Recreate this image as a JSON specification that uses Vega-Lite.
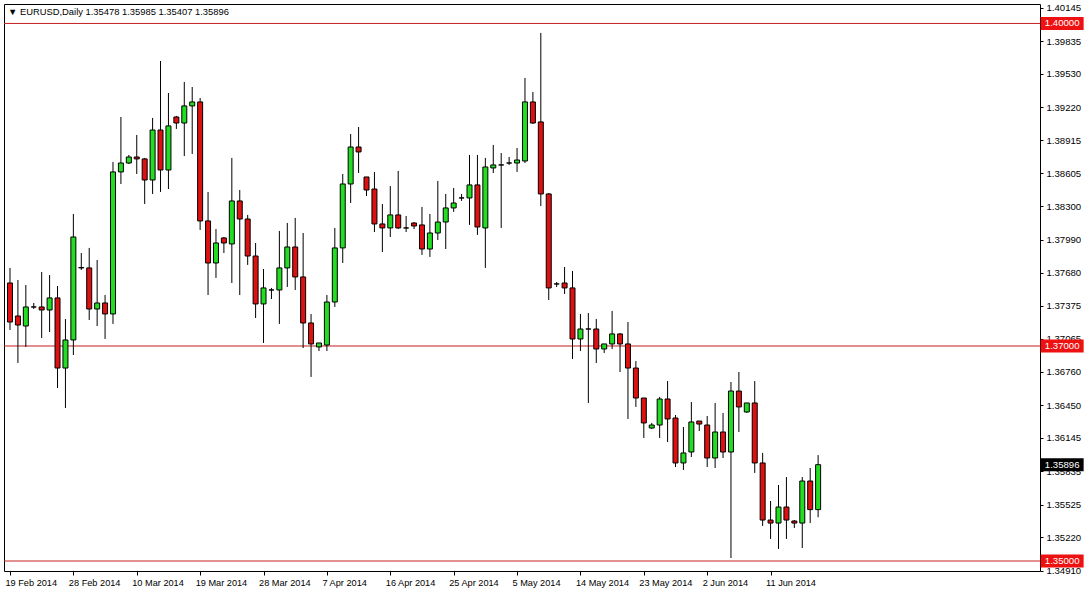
{
  "$schema": "https://vega.github.io/schema/vega-lite/v6.json",
  "width": 1036,
  "height": 567,
  "autosize": {"type": "none"},
  "padding": {"left": 4, "top": 4, "right": 48, "bottom": 22},
  "background": "white",
  "config": {
    "view": {"stroke": "black", "strokeWidth": 1},
    "axis": {"grid": false, "domain": false, "labelFont": "Liberation Sans", "labelFontSize": 10, "labelColor": "black", "tickColor": "black", "title": null, "labelOverlap": false},
    "axisY": {"labelOverlap": false, "labelBound": false, "labelFlush": false}
  },
  "title": {"text": "▼ EURUSD,Daily  1.35478 1.35985 1.35407 1.35896", "anchor": "start", "frame": "group", "offset": -15, "dx": 4, "font": "Liberation Sans", "fontSize": 9.4, "fontWeight": "normal", "color": "black"},
  "datasets": {
    "candles": [
      {"i":0,"o":1.37586,"h":1.37726,"l":1.37149,"c":1.37223},
      {"i":1,"o":1.37279,"h":1.37614,"l":1.36842,"c":1.37195},
      {"i":2,"o":1.37186,"h":1.37567,"l":1.36991,"c":1.37363},
      {"i":3,"o":1.37363,"h":1.37400,"l":1.37344,"c":1.37363},
      {"i":4,"o":1.37363,"h":1.37688,"l":1.37074,"c":1.37335},
      {"i":5,"o":1.37335,"h":1.37660,"l":1.37130,"c":1.37447},
      {"i":6,"o":1.37447,"h":1.37558,"l":1.36609,"c":1.36795},
      {"i":7,"o":1.36795,"h":1.37251,"l":1.36423,"c":1.37056},
      {"i":8,"o":1.37056,"h":1.38228,"l":1.36916,"c":1.38014},
      {"i":9,"o":1.37730,"h":1.37865,"l":1.37707,"c":1.37726},
      {"i":10,"o":1.37726,"h":1.37912,"l":1.37242,"c":1.37344},
      {"i":11,"o":1.37344,"h":1.37800,"l":1.37186,"c":1.37400},
      {"i":12,"o":1.37400,"h":1.37474,"l":1.37065,"c":1.37298},
      {"i":13,"o":1.37298,"h":1.38712,"l":1.37205,"c":1.38619},
      {"i":14,"o":1.38619,"h":1.39130,"l":1.38507,"c":1.38702},
      {"i":15,"o":1.38702,"h":1.38777,"l":1.38693,"c":1.38758},
      {"i":16,"o":1.38758,"h":1.38963,"l":1.38600,"c":1.38740},
      {"i":17,"o":1.38740,"h":1.38749,"l":1.38321,"c":1.38544},
      {"i":18,"o":1.38544,"h":1.39121,"l":1.38414,"c":1.39009},
      {"i":19,"o":1.39009,"h":1.39651,"l":1.38433,"c":1.38637},
      {"i":20,"o":1.38637,"h":1.39353,"l":1.38460,"c":1.39047},
      {"i":21,"o":1.39130,"h":1.39140,"l":1.39019,"c":1.39074},
      {"i":22,"o":1.39074,"h":1.39456,"l":1.38767,"c":1.39233},
      {"i":23,"o":1.39233,"h":1.39409,"l":1.38786,"c":1.39270},
      {"i":24,"o":1.39270,"h":1.39307,"l":1.38079,"c":1.38163},
      {"i":25,"o":1.38163,"h":1.38433,"l":1.37474,"c":1.37772},
      {"i":26,"o":1.37772,"h":1.38088,"l":1.37633,"c":1.37958},
      {"i":27,"o":1.38005,"h":1.38014,"l":1.37865,"c":1.37958},
      {"i":28,"o":1.37949,"h":1.38749,"l":1.37586,"c":1.38349},
      {"i":29,"o":1.38349,"h":1.38451,"l":1.37474,"c":1.38181},
      {"i":30,"o":1.38181,"h":1.38219,"l":1.37754,"c":1.37837},
      {"i":31,"o":1.37837,"h":1.37958,"l":1.37260,"c":1.37391},
      {"i":32,"o":1.37391,"h":1.37716,"l":1.37028,"c":1.37540},
      {"i":33,"o":1.37521,"h":1.37540,"l":1.37437,"c":1.37521},
      {"i":34,"o":1.37521,"h":1.38070,"l":1.37205,"c":1.37726},
      {"i":35,"o":1.37726,"h":1.38144,"l":1.37549,"c":1.37921},
      {"i":36,"o":1.37921,"h":1.38191,"l":1.37521,"c":1.37642},
      {"i":37,"o":1.37642,"h":1.38051,"l":1.36981,"c":1.37214},
      {"i":38,"o":1.37214,"h":1.37298,"l":1.36712,"c":1.37019},
      {"i":39,"o":1.36991,"h":1.37028,"l":1.36953,"c":1.37028},
      {"i":40,"o":1.37009,"h":1.37474,"l":1.36953,"c":1.37409},
      {"i":41,"o":1.37409,"h":1.38098,"l":1.37363,"c":1.37912},
      {"i":42,"o":1.37912,"h":1.38600,"l":1.37772,"c":1.38507},
      {"i":43,"o":1.38507,"h":1.38972,"l":1.38330,"c":1.38851},
      {"i":44,"o":1.38851,"h":1.39037,"l":1.38609,"c":1.38805},
      {"i":45,"o":1.38572,"h":1.38572,"l":1.38395,"c":1.38451},
      {"i":46,"o":1.38460,"h":1.38619,"l":1.38060,"c":1.38135},
      {"i":47,"o":1.38135,"h":1.38321,"l":1.37874,"c":1.38098},
      {"i":48,"o":1.38098,"h":1.38488,"l":1.38014,"c":1.38219},
      {"i":49,"o":1.38219,"h":1.38628,"l":1.38088,"c":1.38098},
      {"i":50,"o":1.38098,"h":1.38209,"l":1.38060,"c":1.38098},
      {"i":51,"o":1.38144,"h":1.38153,"l":1.38088,"c":1.38116},
      {"i":52,"o":1.38126,"h":1.38293,"l":1.37847,"c":1.37902},
      {"i":53,"o":1.37902,"h":1.38228,"l":1.37828,"c":1.38051},
      {"i":54,"o":1.38051,"h":1.38535,"l":1.37986,"c":1.38153},
      {"i":55,"o":1.38153,"h":1.38414,"l":1.37902,"c":1.38284},
      {"i":56,"o":1.38284,"h":1.38470,"l":1.38247,"c":1.38330},
      {"i":57,"o":1.38377,"h":1.38414,"l":1.38349,"c":1.38377},
      {"i":58,"o":1.38377,"h":1.38777,"l":1.38126,"c":1.38498},
      {"i":59,"o":1.38498,"h":1.38777,"l":1.38033,"c":1.38107},
      {"i":60,"o":1.38098,"h":1.38749,"l":1.37726,"c":1.38665},
      {"i":61,"o":1.38656,"h":1.38870,"l":1.38609,"c":1.38684},
      {"i":62,"o":1.38684,"h":1.38795,"l":1.38098,"c":1.38684},
      {"i":63,"o":1.38702,"h":1.38758,"l":1.38684,"c":1.38702},
      {"i":64,"o":1.38702,"h":1.38842,"l":1.38619,"c":1.38730},
      {"i":65,"o":1.38721,"h":1.39493,"l":1.38702,"c":1.39270},
      {"i":66,"o":1.39270,"h":1.39363,"l":1.39065,"c":1.39074},
      {"i":67,"o":1.39084,"h":1.39912,"l":1.38302,"c":1.38414},
      {"i":68,"o":1.38414,"h":1.38423,"l":1.37428,"c":1.37540},
      {"i":69,"o":1.37577,"h":1.37595,"l":1.37549,"c":1.37577},
      {"i":70,"o":1.37586,"h":1.37735,"l":1.37484,"c":1.37540},
      {"i":71,"o":1.37540,"h":1.37698,"l":1.36879,"c":1.37065},
      {"i":72,"o":1.37065,"h":1.37298,"l":1.36953,"c":1.37158},
      {"i":73,"o":1.37158,"h":1.37307,"l":1.36470,"c":1.37158},
      {"i":74,"o":1.37158,"h":1.37251,"l":1.36842,"c":1.36972},
      {"i":75,"o":1.36972,"h":1.37019,"l":1.36935,"c":1.37019},
      {"i":76,"o":1.37019,"h":1.37326,"l":1.36972,"c":1.37112},
      {"i":77,"o":1.37112,"h":1.37121,"l":1.36758,"c":1.37019},
      {"i":78,"o":1.37019,"h":1.37223,"l":1.36321,"c":1.36795},
      {"i":79,"o":1.36795,"h":1.36860,"l":1.36433,"c":1.36516},
      {"i":80,"o":1.36516,"h":1.36516,"l":1.36144,"c":1.36284},
      {"i":81,"o":1.36237,"h":1.36284,"l":1.36228,"c":1.36265},
      {"i":82,"o":1.36265,"h":1.36526,"l":1.36144,"c":1.36507},
      {"i":83,"o":1.36507,"h":1.36674,"l":1.36107,"c":1.36321},
      {"i":84,"o":1.36330,"h":1.36358,"l":1.35874,"c":1.35912},
      {"i":85,"o":1.35912,"h":1.36247,"l":1.35847,"c":1.36005},
      {"i":86,"o":1.36014,"h":1.36479,"l":1.35967,"c":1.36293},
      {"i":87,"o":1.36302,"h":1.36302,"l":1.36209,"c":1.36274},
      {"i":88,"o":1.36265,"h":1.36349,"l":1.35874,"c":1.35958},
      {"i":89,"o":1.35958,"h":1.36470,"l":1.35865,"c":1.36200},
      {"i":90,"o":1.36200,"h":1.36377,"l":1.35958,"c":1.36014},
      {"i":91,"o":1.36014,"h":1.36665,"l":1.35028,"c":1.36581},
      {"i":92,"o":1.36581,"h":1.36758,"l":1.36200,"c":1.36433},
      {"i":93,"o":1.36386,"h":1.36470,"l":1.36377,"c":1.36470},
      {"i":94,"o":1.36470,"h":1.36674,"l":1.35819,"c":1.35912},
      {"i":95,"o":1.35912,"h":1.36005,"l":1.35326,"c":1.35381},
      {"i":96,"o":1.35381,"h":1.35558,"l":1.35205,"c":1.35353},
      {"i":97,"o":1.35353,"h":1.35707,"l":1.35112,"c":1.35502},
      {"i":98,"o":1.35502,"h":1.35781,"l":1.35205,"c":1.35381},
      {"i":99,"o":1.35372,"h":1.35381,"l":1.35307,"c":1.35353},
      {"i":100,"o":1.35353,"h":1.35781,"l":1.35121,"c":1.35744},
      {"i":101,"o":1.35744,"h":1.35865,"l":1.35353,"c":1.35478},
      {"i":102,"o":1.35478,"h":1.35985,"l":1.35407,"c":1.35896}
    ],
    "levels": [
      {"value": 1.40000, "label": "1.40000", "kind": "level"},
      {"value": 1.37000, "label": "1.37000", "kind": "level"},
      {"value": 1.35000, "label": "1.35000", "kind": "level"},
      {"value": 1.35896, "label": "1.35896", "kind": "bid"}
    ]
  },
  "layer": [
    {
      "data": {"name": "levels"},
      "transform": [{"filter": "datum.kind === 'level'"}],
      "mark": {"type": "rule", "color": "#c42020", "strokeWidth": 1},
      "encoding": {
        "y": {"field": "value", "type": "quantitative", "scale": {"domain": [1.34907, 1.40181], "zero": false, "nice": false},
          "axis": {"orient": "right", "values": [1.40145, 1.39835, 1.3953, 1.3922, 1.38915, 1.38605, 1.383, 1.3799, 1.3768, 1.37375, 1.37065, 1.3676, 1.3645, 1.36145, 1.35835, 1.35525, 1.3522, 1.3491], "tickCount": 40, "format": ".5f", "tickSize": 3, "labelPadding": 3, "labelOverlap": false, "labelFlush": false, "labelBound": false, "labelFontSize": 9.6}}
      }
    },
    {
      "data": {"name": "candles"},
      "mark": {"type": "rule", "color": "black", "strokeWidth": 1},
      "encoding": {
        "x": {"field": "i", "type": "quantitative", "scale": {"domain": [-0.125, 129.375], "zero": false, "nice": false},
          "axis": {"orient": "bottom", "values": [0, 8, 16, 24, 32, 40, 48, 56, 64, 72, 80, 88, 96], "tickCount": 40, "labelExpr": "['19 Feb 2014','28 Feb 2014','10 Mar 2014','19 Mar 2014','28 Mar 2014','7 Apr 2014','16 Apr 2014','25 Apr 2014','5 May 2014','14 May 2014','23 May 2014','2 Jun 2014','11 Jun 2014'][round(datum.value/8)]", "labelAlign": "left", "labelOffset": -5, "labelFlush": false, "labelOverlap": false, "labelFontSize": 9.2, "tickSize": 4, "labelPadding": 3}},
        "y": {"field": "l", "type": "quantitative", "scale": {"domain": [1.34907, 1.40181], "zero": false, "nice": false}},
        "y2": {"field": "h"}
      }
    },
    {
      "data": {"name": "candles"},
      "mark": {"type": "bar", "width": 5, "stroke": "black", "strokeWidth": 1},
      "encoding": {
        "x": {"field": "i", "type": "quantitative", "scale": {"domain": [-0.125, 129.375], "zero": false, "nice": false}},
        "y": {"field": "o", "type": "quantitative", "scale": {"domain": [1.34907, 1.40181], "zero": false, "nice": false}},
        "y2": {"field": "c"},
        "color": {"condition": {"test": "datum.c > datum.o", "value": "#22dd22"}, "value": "#dd1111"}
      }
    },
    {
      "data": {"name": "levels"},
      "mark": {"type": "tick", "orient": "horizontal", "thickness": 13, "size": 43, "clip": false},
      "encoding": {
        "x": {"datum": 132.8, "type": "quantitative", "scale": {"domain": [-0.125, 129.375], "zero": false, "nice": false}},
        "y": {"field": "value", "type": "quantitative", "scale": {"domain": [1.34907, 1.40181], "zero": false, "nice": false}},
        "color": {"condition": {"test": "datum.kind === 'bid'", "value": "black"}, "value": "#ee1111"},
        "opacity": {"value": 1}
      }
    },
    {
      "data": {"name": "levels"},
      "mark": {"type": "text", "font": "Liberation Sans", "fontSize": 9.6, "color": "white", "align": "center", "baseline": "middle", "clip": false},
      "encoding": {
        "x": {"datum": 132.8, "type": "quantitative", "scale": {"domain": [-0.125, 129.375], "zero": false, "nice": false}},
        "y": {"field": "value", "type": "quantitative", "scale": {"domain": [1.34907, 1.40181], "zero": false, "nice": false}},
        "text": {"field": "label"}
      }
    }
  ]
}
